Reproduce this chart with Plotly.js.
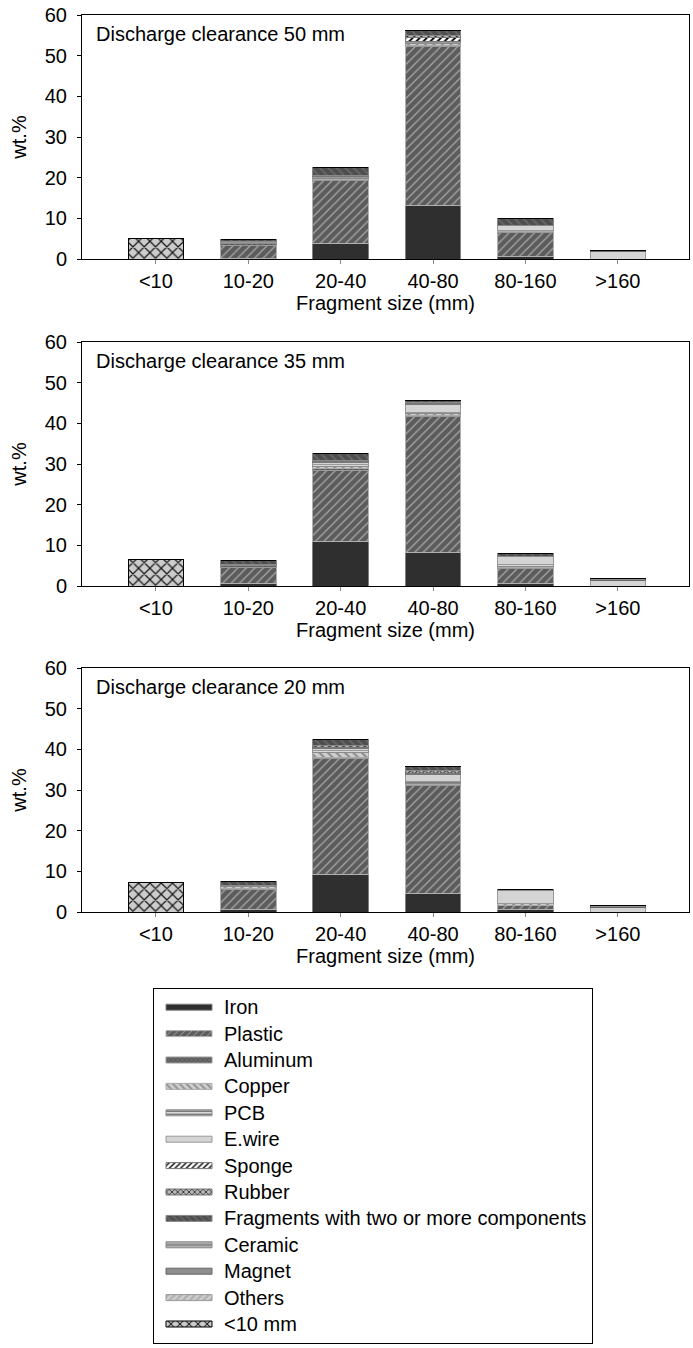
<!DOCTYPE html>
<html><head><meta charset="utf-8">
<script src="https://cdn.plot.ly/plotly-3.0.1.min.js"></script>
<style>html,body{margin:0;padding:0;background:#fff}#chart{width:693px;height:1348px}</style>
</head><body><div id="chart"></div>
<script>
const categories = ['<10','10-20','20-40','40-80','80-160','>160'];
const panelTitles = ['Discharge clearance 50 mm','Discharge clearance 35 mm','Discharge clearance 20 mm'];
const xTitle = 'Fragment size (mm)';
const yTitle = 'wt.%';

// Discharge clearance 50 mm
const iron50      = [0, 0.1, 3.9, 13.1, 0.6, 0];
const plastic50   = [0, 3.3, 15.5, 39.1, 5.9, 0];
const aluminum50  = [0, 0.3, 0.2, 0.4, 0.2, 0];
const copper50    = [0, 0.2, 0.3, 0.3, 0.2, 0];
const pcb50       = [0, 0.1, 0.2, 0.3, 0.2, 0];
const ewire50     = [0, 0.2, 0.3, 0.4, 1.1, 1.9];
const sponge50    = [0, 0, 0, 0.9, 0, 0];
const rubber50    = [0, 0, 0.1, 0.5, 0, 0];
const fragments50 = [0, 0.6, 2.0, 1.1, 1.8, 0];
const ceramic50   = [0, 0, 0, 0, 0, 0];
const magnet50    = [0, 0, 0, 0, 0, 0.3];
const others50    = [0, 0, 0, 0, 0, 0];
const fines50     = [5.1, 0, 0, 0, 0, 0];

// Discharge clearance 35 mm
const iron35      = [0, 0.6, 10.9, 8.2, 0.6, 0];
const plastic35   = [0, 4.0, 17.5, 33.5, 3.8, 0];
const aluminum35  = [0, 0.4, 0.6, 0.3, 0.2, 0];
const copper35    = [0, 0.1, 0.5, 0.4, 0.3, 0];
const pcb35       = [0, 0.1, 0.3, 0.3, 0.3, 0];
const ewire35     = [0, 0.2, 0.5, 2.0, 2.0, 1.4];
const sponge35    = [0, 0, 0.3, 0.2, 0, 0];
const rubber35    = [0, 0, 0.3, 0.2, 0, 0];
const fragments35 = [0, 0.8, 1.6, 0.6, 0.7, 0];
const ceramic35   = [0, 0, 0, 0, 0, 0];
const magnet35    = [0, 0, 0, 0, 0, 0.4];
const others35    = [0, 0, 0, 0, 0, 0];
const fines35     = [6.5, 0, 0, 0, 0, 0];

// Discharge clearance 20 mm
const iron20      = [0, 0.5, 9.1, 4.5, 0.6, 0];
const plastic20   = [0, 5.0, 28.7, 26.6, 1.0, 0];
const aluminum20  = [0, 0.4, 0.2, 0.3, 0.1, 0];
const copper20    = [0, 0.3, 1.3, 0.3, 0.3, 0];
const pcb20       = [0, 0.2, 0.3, 0.3, 0.1, 0];
const ewire20     = [0, 0.2, 0.5, 1.8, 3.2, 1.2];
const sponge20    = [0, 0, 0.3, 0.3, 0, 0];
const rubber20    = [0, 0, 0.5, 0.7, 0, 0];
const fragments20 = [0, 0.8, 1.4, 0.9, 0.3, 0];
const ceramic20   = [0, 0, 0, 0, 0, 0];
const magnet20    = [0, 0, 0, 0, 0, 0.5];
const others20    = [0, 0, 0, 0, 0, 0];
const fines20     = [7.3, 0, 0, 0, 0, 0];

const materialNames = ['Iron','Plastic','Aluminum','Copper','PCB','E.wire','Sponge','Rubber',
  'Fragments with two or more components','Ceramic','Magnet','Others','<10 mm'];
const materialData = [
  [iron50, iron35, iron20],
  [plastic50, plastic35, plastic20],
  [aluminum50, aluminum35, aluminum20],
  [copper50, copper35, copper20],
  [pcb50, pcb35, pcb20],
  [ewire50, ewire35, ewire20],
  [sponge50, sponge35, sponge20],
  [rubber50, rubber35, rubber20],
  [fragments50, fragments35, fragments20],
  [ceramic50, ceramic35, ceramic20],
  [magnet50, magnet35, magnet20],
  [others50, others35, others20],
  [fines50, fines35, fines20]
];

// visual styles
const styles = [
  {bg:'#2f2f2f', fg:'#2f2f2f', shape:'',  size:8, sol:0.3, line:'#808080'},
  {bg:'#5c5c5c', fg:'#aaaaaa', shape:'/', size:6, sol:0.2, line:'#b0b0b0'},
  {bg:'#6c6c6c', fg:'#4c4c4c', shape:'x', size:4, sol:0.35, line:'#999999'},
  {bg:'#cfcfcf', fg:'#8a8a8a', shape:'\\', size:6, sol:0.35, line:'#aaaaaa'},
  {bg:'#d8d8d8', fg:'#707070', shape:'-', size:4, sol:0.45, line:'#8a8a8a'},
  {bg:'#d4d4d4', fg:'#d4d4d4', shape:'',  size:8, sol:0.3, line:'#999999'},
  {bg:'#ffffff', fg:'#000000', shape:'/', size:5, sol:0.35, line:'#777777'},
  {bg:'#b8b8b8', fg:'#1e1e1e', shape:'x', size:5, sol:0.35, line:'#777777'},
  {bg:'#4e4e4e', fg:'#686868', shape:'\\', size:6, sol:0.3, line:'#888888'},
  {bg:'#8c8c8c', fg:'#e6e6e6', shape:'-', size:5, sol:0.2, line:'#888888'},
  {bg:'#8e8e8e', fg:'#8e8e8e', shape:'',  size:8, sol:0.3, line:'#666666'},
  {bg:'#b4b4b4', fg:'#dddddd', shape:'/', size:6, sol:0.3, line:'#999999'},
  {bg:'#cccccc', fg:'#151515', shape:'x', size:8, sol:0.28, line:'#000000'}
];

const W = 693, H = 1348;
const plotLeft = 82, plotRight = 689;
const panelTops = [15, 342, 668];
const panelHeight = 244;

const traces = [];
for (let p = 0; p < 3; p++) {
  const sfx = p === 0 ? '' : String(p + 1);
  materialNames.forEach((name, i) => {
    const s = styles[i];
    traces.push({
      type: 'bar', x: categories, y: materialData[i][p],
      xaxis: 'x' + sfx, yaxis: 'y' + sfx,
      name: name, legendgroup: name, showlegend: p === 0,
      width: 0.6,
      marker: {
        color: s.bg,
        line: {color: s.line, width: 1},
        pattern: {shape: s.shape, fgcolor: s.fg, bgcolor: s.bg, size: s.size, solidity: s.sol, fillmode: 'replace'}
      },
      hoverinfo: 'name+y'
    });
  });
}

const layout = {
  width: W, height: H,
  margin: {l: 0, r: 0, t: 0, b: 0},
  barmode: 'stack',
  paper_bgcolor: '#ffffff', plot_bgcolor: '#ffffff',
  font: {family: 'Arial, "Liberation Sans", sans-serif', size: 20, color: '#000'},
  showlegend: true,
  legend: {
    x: 153 / W, xanchor: 'left', y: 1 - 988 / H, yanchor: 'top',
    bordercolor: '#000', borderwidth: 1, bgcolor: '#fff',
    font: {size: 18}, itemwidth: 60, traceorder: 'normal', tracegroupgap: 0
  },
  annotations: []
};

for (let p = 0; p < 3; p++) {
  const sfx = p === 0 ? '' : String(p + 1);
  const top = panelTops[p], bot = top + panelHeight;
  layout['xaxis' + sfx] = {
    domain: [plotLeft / W, plotRight / W], anchor: 'y' + sfx,
    type: 'category', range: [-0.8, 5.77],
    showline: true, linecolor: '#000', linewidth: 1, mirror: true,
    ticks: 'outside', ticklen: 4, tickcolor: '#888',
    tickfont: {size: 20},
    title: {text: xTitle, font: {size: 20}, standoff: 2},
    showgrid: false, zeroline: false, fixedrange: true
  };
  layout['yaxis' + sfx] = {
    domain: [1 - bot / H, 1 - top / H], anchor: 'x' + sfx,
    range: [0, 60], dtick: 10,
    showline: true, linecolor: '#000', linewidth: 1, mirror: true,
    ticks: 'outside', ticklen: 4, tickcolor: '#000',
    tickfont: {size: 20}, ticklabelstandoff: 6,
    title: {text: yTitle, font: {size: 20}, standoff: 12},
    showgrid: false, zeroline: false, fixedrange: true
  };
  layout.annotations.push({
    text: panelTitles[p], xref: 'x' + sfx + ' domain', yref: 'y' + sfx + ' domain',
    x: (94 - plotLeft) / (plotRight - plotLeft), y: 1 - 18.7 / panelHeight,
    xanchor: 'left', yanchor: 'middle', showarrow: false, font: {size: 20}
  });
}

Plotly.newPlot('chart', traces, layout, {displayModeBar: false, staticPlot: true}).then(gd => {
  const leg = gd.querySelector('g.legend');
  if (!leg) return;
  // long, thin legend swatches like the original
  leg.querySelectorAll('.legendpoints path').forEach(p => p.setAttribute('d', 'M23,3H-23V-3H23Z'));
  // legend text at the same 20px as the rest of the figure (row spacing kept)
  const texts = Array.from(leg.querySelectorAll('text.legendtext'));
  let oldMax = 0, newMax = 0;
  texts.forEach(t => { oldMax = Math.max(oldMax, t.getComputedTextLength()); });
  texts.forEach(t => { t.style.fontSize = '20px'; });
  texts.forEach(t => { newMax = Math.max(newMax, t.getComputedTextLength()); });
  const dw = newMax - oldMax;
  const bg = leg.querySelector('rect.bg');
  if (bg) bg.setAttribute('width', (+bg.getAttribute('width')) + dw);
  const sb = leg.querySelector('.scrollbox');
  const cp = sb && sb.getAttribute('clip-path');
  const m = cp && cp.match(/#([^)'"]+)/);
  if (m) {
    const r = document.getElementById(m[1]);
    const rr = r && r.querySelector('rect');
    if (rr) rr.setAttribute('width', (+rr.getAttribute('width')) + dw);
  }
});
</script>
</body></html>
